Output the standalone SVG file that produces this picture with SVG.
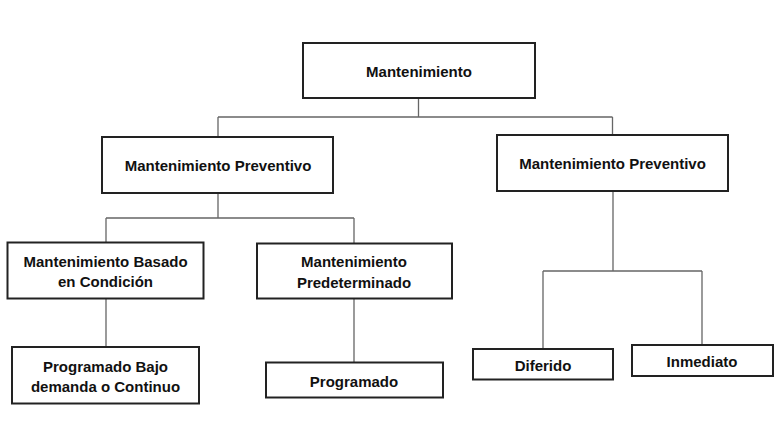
<svg xmlns="http://www.w3.org/2000/svg" width="779" height="422" viewBox="0 0 779 422">
<style>
.box{fill:#fff;stroke:#222;stroke-width:2}
.t{font-family:"Liberation Sans",Arial,sans-serif;font-weight:bold;font-size:15px;fill:#111;text-anchor:middle}
.c{fill:none;stroke:#666;stroke-width:1.3}
</style>
<rect width="779" height="422" fill="#fff"/>
<g id="connectors">
<path class="c" d="M418.5 98V117M218 117H612.5M218 117V137M612.5 117V135"/>
<path class="c" d="M218 193V218M106 218H354M106 218V242M354 218V243"/>
<path class="c" d="M106 298V347M354 298V362"/>
<path class="c" d="M613 191V271M543 271H702M543 271V349M702 271V345"/>
</g>
<g id="n-mantenimiento">
<rect class="box" x="303" y="43" width="232" height="55"/>
<text class="t" x="419" y="76.5">Mantenimiento</text>
</g>
<g id="n-preventivo-left">
<rect class="box" x="102" y="137" width="231" height="56"/>
<text class="t" x="218" y="170.5">Mantenimiento Preventivo</text>
</g>
<g id="n-preventivo-right">
<rect class="box" x="497" y="135" width="231" height="56"/>
<text class="t" x="612.5" y="168.5">Mantenimiento Preventivo</text>
</g>
<g id="n-basado">
<rect class="box" x="7.5" y="242.5" width="196" height="56"/>
<text class="t" x="105.5" y="267">Mantenimiento Basado</text>
<text class="t" x="105.5" y="287">en Condición</text>
</g>
<g id="n-predeterminado">
<rect class="box" x="257" y="243.5" width="195" height="55"/>
<text class="t" x="354" y="267">Mantenimiento</text>
<text class="t" x="354" y="287.5">Predeterminado</text>
</g>
<g id="n-programado-bajo">
<rect class="box" x="12" y="347" width="187" height="56.5"/>
<text class="t" x="105.5" y="371.5">Programado Bajo</text>
<text class="t" x="105.5" y="391.5">demanda o Continuo</text>
</g>
<g id="n-programado">
<rect class="box" x="266" y="362.5" width="177" height="35"/>
<text class="t" x="354" y="387">Programado</text>
</g>
<g id="n-diferido">
<rect class="box" x="473" y="349" width="140" height="30.5"/>
<text class="t" x="543" y="371">Diferido</text>
</g>
<g id="n-inmediato">
<rect class="box" x="632" y="345" width="141" height="31"/>
<text class="t" x="702" y="366.5">Inmediato</text>
</g>
</svg>
